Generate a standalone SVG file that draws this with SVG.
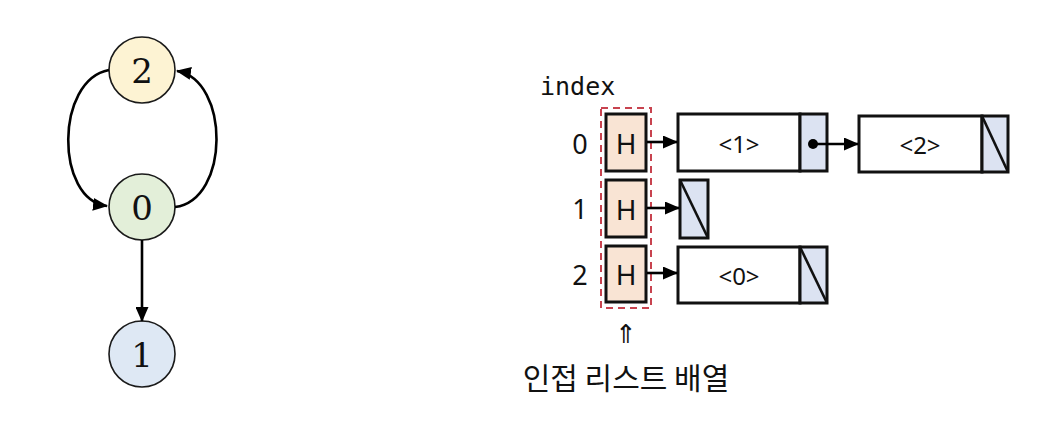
<svg xmlns="http://www.w3.org/2000/svg" width="1038" height="438" viewBox="0 0 1038 438">
<style>
.node{stroke:#1a1a1a;stroke-width:1.6}
.gl{font-family:"DejaVu Serif","Liberation Serif",serif;font-size:34px;fill:#111;text-anchor:middle;dominant-baseline:central}
.edge{fill:none;stroke:#000;stroke-width:2.6}
.box{stroke:#111;stroke-width:3}
.lbl{font-family:"Noto Sans","DejaVu Sans",sans-serif;fill:#111;text-anchor:middle;dominant-baseline:central}
.mono{font-family:"DejaVu Sans Mono","Liberation Mono",monospace;font-size:25px;fill:#111}
.ptr{fill:none;stroke:#000;stroke-width:2.6}
</style>
<defs>
<marker id="ah" markerUnits="userSpaceOnUse" markerWidth="15" markerHeight="13" refX="14" refY="6.5" orient="auto">
<path d="M0,0 L15,6.5 L0,13 Z" fill="#000"/>
</marker>
</defs>

<g id="node-2">
<circle class="node" cx="142" cy="70" r="33" fill="#fdf3d3"/>
<text class="gl" x="142" y="71">2</text>
</g>
<g id="node-0">
<circle class="node" cx="142" cy="207" r="33" fill="#e3efd9"/>
<text class="gl" x="142" y="208">0</text>
</g>
<g id="node-1">
<circle class="node" cx="142" cy="354" r="33" fill="#dee8f4"/>
<text class="gl" x="142" y="355">1</text>
</g>

<g id="index-label">
<text class="mono" x="540" y="95">index</text>
<text class="lbl" x="580" y="143" font-size="27">0</text>
<text class="lbl" x="580" y="208" font-size="27">1</text>
<text class="lbl" x="580" y="274" font-size="27">2</text>
</g>

<g id="array">
<rect x="601" y="108" width="50" height="200" fill="none" stroke="#c8434f" stroke-width="2" stroke-dasharray="7,5"/>
<rect class="box" x="606" y="114" width="40" height="57" fill="#f9e4d4"/>
<text class="lbl" x="626" y="143" font-size="28">H</text>
<rect class="box" x="606" y="180" width="40" height="57" fill="#f9e4d4"/>
<text class="lbl" x="626" y="209" font-size="28">H</text>
<rect class="box" x="606" y="246" width="40" height="56" fill="#f9e4d4"/>
<text class="lbl" x="626" y="274" font-size="28">H</text>
</g>

<g id="list-node-1">
<rect class="box" x="678" y="114" width="122" height="57" fill="#fff"/>
<rect class="box" x="800" y="114" width="27" height="57" fill="#dce3f2"/>
<text class="lbl" x="739" y="143" font-size="24">&lt;1&gt;</text>
</g>
<g id="list-node-2">
<rect class="box" x="859" y="116" width="123" height="56" fill="#fff"/>
<rect class="box" x="982" y="116" width="26" height="56" fill="#dce3f2"/>
<path d="M982,116 L1008,172" stroke="#111" stroke-width="2.6"/>
<text class="lbl" x="920" y="144" font-size="24">&lt;2&gt;</text>
</g>
<g id="null-1">
<rect class="box" x="680" y="180" width="28" height="58" fill="#dce3f2"/>
<path d="M680,180 L708,238" stroke="#111" stroke-width="2.6"/>
</g>
<g id="list-node-0">
<rect class="box" x="678" y="247" width="122" height="56" fill="#fff"/>
<rect class="box" x="800" y="247" width="27" height="56" fill="#dce3f2"/>
<path d="M800,247 L827,303" stroke="#111" stroke-width="2.6"/>
<text class="lbl" x="739" y="275" font-size="24">&lt;0&gt;</text>
</g>

<g id="connectors">
<path class="edge" d="M109,70 C55,80 55,200 107,206" marker-end="url(#ah)"/>
<path class="edge" d="M175,207 C230,200 230,80 177,71" marker-end="url(#ah)"/>
<path class="edge" d="M142,240 L142,321" marker-end="url(#ah)"/>
<path class="ptr" d="M647,142 L677,142" marker-end="url(#ah)"/>
<path class="ptr" d="M647,208 L679,208" marker-end="url(#ah)"/>
<path class="ptr" d="M647,273 L677,273" marker-end="url(#ah)"/>
<path class="ptr" d="M813,144 L858,144" marker-end="url(#ah)"/>
<circle cx="813" cy="144" r="5" fill="#000"/>
</g>

<g id="caption">
<text class="lbl" x="626" y="333" font-size="26">⇑</text>
<text x="626" y="376" font-family="'Noto Sans CJK KR','Noto Sans',sans-serif" font-size="30" fill="#111" text-anchor="middle" dominant-baseline="central">인접 리스트 배열</text>
</g>
</svg>
